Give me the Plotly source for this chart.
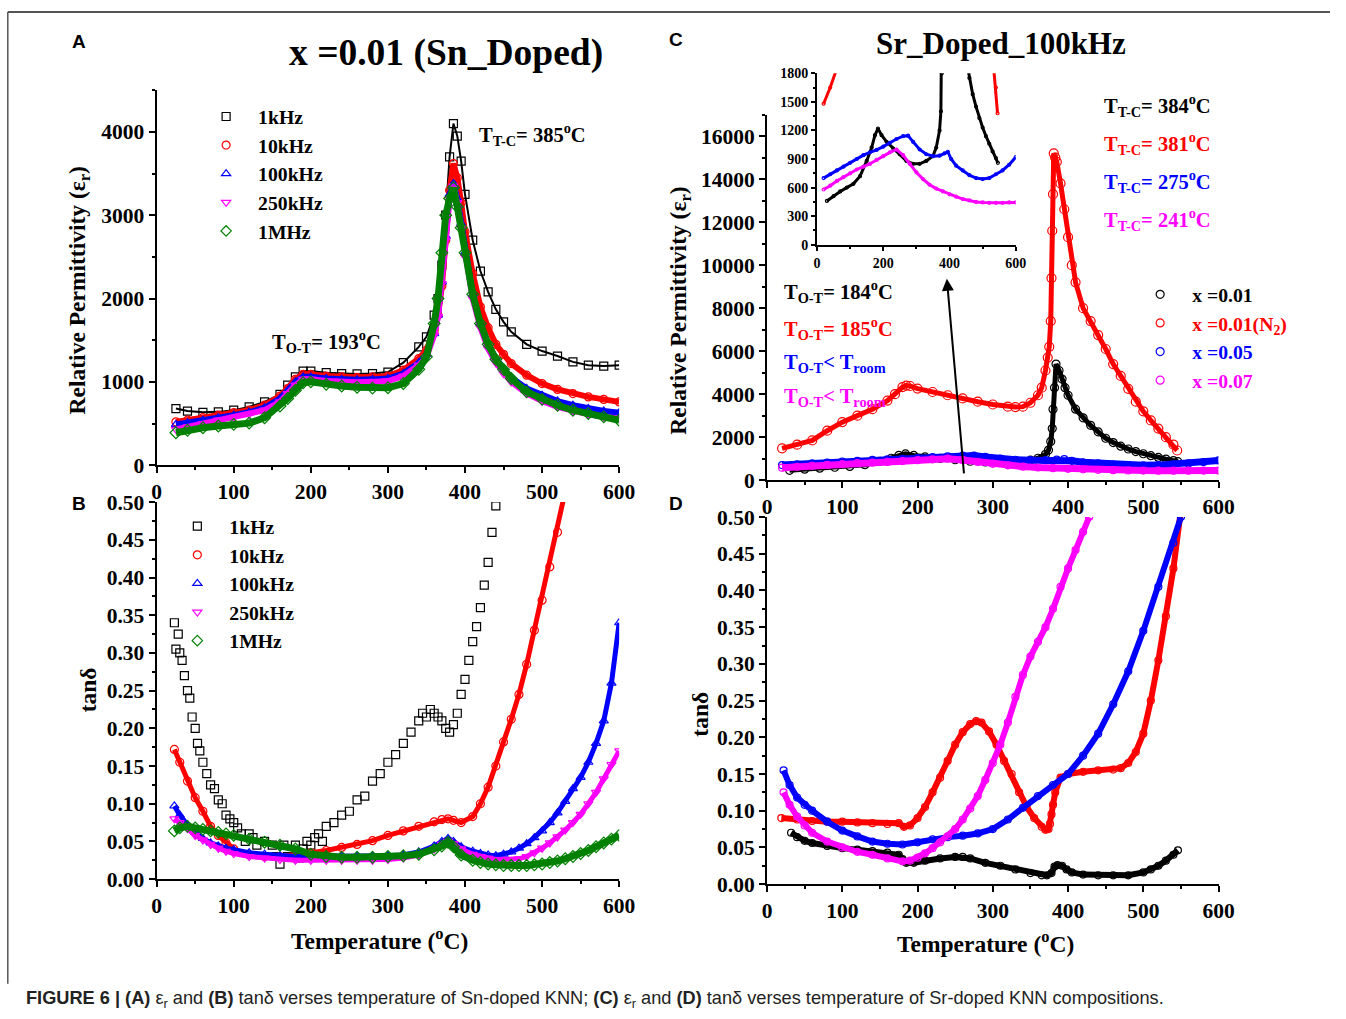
import plotly.graph_objects as go

W, H = 1346, 1019
# the photographed page comes out slightly scaled and shifted; positions below are given in
# picture pixels and converted to the figure's own pixels with this measured mapping
SX, OX = 0.9854, 5.2
SY, OY = 0.979, 9.6

# ---------------- Panel A : permittivity, Sn-doped (x=0.01) ----------------
T_A = [25, 40, 60, 80, 100, 120, 140, 160, 170, 180, 190, 200, 220, 240, 260, 280, 300, 320, 340, 350,
       360, 365, 370, 375, 380, 385, 390, 395, 400, 410, 420, 430, 440, 450, 460, 480, 500, 520, 540, 560, 580, 600]
A_1k = [680, 650, 635, 640, 660, 700, 760, 850, 960, 1060, 1130, 1130, 1110, 1100, 1095, 1100, 1118, 1230, 1420, 1540,
        1800, 2000, 2400, 3000, 3700, 4100, 3950, 3650, 3250, 2700, 2330, 2080, 1870, 1720, 1600, 1450, 1370, 1310, 1240, 1200, 1190, 1200]
A_10k = [520, 540, 570, 600, 630, 660, 720, 830, 920, 1030, 1090, 1090, 1070, 1060, 1055, 1060, 1070, 1140, 1280, 1380,
         1620, 1800, 2150, 2700, 3300, 3620, 3450, 3150, 2800, 2300, 1900, 1650, 1450, 1330, 1220, 1080, 980, 910, 860, 820, 790, 760]
A_100k = [490, 510, 540, 570, 600, 635, 690, 800, 890, 1000, 1060, 1060, 1040, 1030, 1025, 1030, 1040, 1100, 1230, 1330,
          1580, 1800, 2200, 2750, 3250, 3380, 3200, 2900, 2550, 2050, 1700, 1450, 1280, 1150, 1050, 920, 840, 770, 720, 680, 650, 630]
A_250k = [430, 460, 500, 540, 570, 610, 660, 760, 860, 960, 1030, 1030, 1010, 1000, 995, 1000, 1010, 1070, 1200, 1300,
          1560, 1780, 2180, 2700, 3200, 3350, 3150, 2850, 2500, 2000, 1650, 1400, 1230, 1100, 1000, 860, 770, 700, 650, 610, 580, 560]
A_1M = [390, 420, 450, 470, 490, 505, 570, 710, 800, 900, 990, 1000, 970, 950, 935, 925, 930, 980, 1150, 1300,
        1700, 2000, 2550, 3000, 3200, 3330, 3100, 2850, 2550, 2050, 1700, 1450, 1270, 1150, 1040, 880, 790, 720, 660, 620, 580, 540]

# ---------------- Panel B : tan delta, Sn-doped ----------------
T_B1 = [23, 25, 28, 30, 33, 36, 40, 43, 46, 50, 53, 56, 60, 65, 70, 75, 80, 85, 90, 95, 100, 105, 110, 115, 120, 125,
        130, 140, 150, 155, 160, 165, 170, 180, 185, 190, 195, 200, 205, 210, 215, 220, 230, 240, 250, 260, 270, 280,
        290, 300, 310, 320, 330, 340, 345, 350, 355, 360, 365, 370, 375, 380, 385, 390, 395, 400, 405, 410, 415, 420,
        425, 430, 435, 440]
B_1k = [0.340, 0.305, 0.325, 0.300, 0.290, 0.270, 0.250, 0.240, 0.215, 0.200, 0.180, 0.170, 0.155, 0.140, 0.125, 0.120,
        0.105, 0.100, 0.085, 0.080, 0.075, 0.068, 0.060, 0.050, 0.060, 0.055, 0.045, 0.050, 0.045, 0.030, 0.020, 0.045,
        0.030, 0.045, 0.028, 0.040, 0.050, 0.045, 0.055, 0.060, 0.050, 0.070, 0.075, 0.085, 0.090, 0.105, 0.110, 0.130,
        0.140, 0.155, 0.165, 0.180, 0.195, 0.210, 0.220, 0.215, 0.225, 0.220, 0.215, 0.210, 0.200, 0.195, 0.205, 0.220,
        0.245, 0.265, 0.290, 0.315, 0.335, 0.360, 0.390, 0.420, 0.460, 0.495]
T_B = [23, 30, 40, 50, 60, 70, 80, 90, 100, 120, 140, 160, 180, 200, 220, 240, 260, 280, 300, 320, 340, 360, 370, 378,
       385, 395, 410, 420, 430, 440, 450, 460, 470, 480, 490, 500, 510, 520, 530, 540, 550, 560, 570, 580, 590, 600]
B_10k = [0.172, 0.155, 0.130, 0.108, 0.090, 0.070, 0.058, 0.048, 0.040, 0.032, 0.030, 0.030, 0.032, 0.035, 0.038, 0.042,
         0.046, 0.051, 0.058, 0.064, 0.070, 0.076, 0.079, 0.080, 0.078, 0.075, 0.083, 0.100, 0.122, 0.150, 0.182, 0.212,
         0.245, 0.285, 0.330, 0.370, 0.414, 0.460, 0.510, 0.560, None, None, None, None, None, None]
B_100k = [0.097, 0.085, 0.072, 0.062, 0.054, 0.048, 0.044, 0.041, 0.039, 0.035, 0.033, 0.031, 0.030, 0.030, 0.030, 0.030,
          0.030, 0.030, 0.031, 0.032, 0.036, 0.044, 0.050, 0.054, 0.050, 0.043, 0.037, 0.034, 0.032, 0.031, 0.033, 0.036,
          0.041, 0.047, 0.055, 0.064, 0.075, 0.088, 0.103, 0.120, 0.135, 0.155, 0.180, 0.210, 0.260, 0.340]
B_250k = [0.080, 0.075, 0.067, 0.058, 0.052, 0.046, 0.041, 0.037, 0.034, 0.030, 0.028, 0.026, 0.025, 0.025, 0.025, 0.025,
          0.025, 0.025, 0.026, 0.028, 0.032, 0.040, 0.046, 0.050, 0.047, 0.040, 0.033, 0.030, 0.028, 0.026, 0.026, 0.026,
          0.027, 0.030, 0.035, 0.041, 0.048, 0.056, 0.065, 0.075, 0.086, 0.100, 0.115, 0.133, 0.152, 0.170]
B_1M = [0.064, 0.068, 0.070, 0.068, 0.066, 0.064, 0.062, 0.060, 0.058, 0.053, 0.049, 0.045, 0.040, 0.033, 0.030, 0.029,
        0.029, 0.029, 0.030, 0.031, 0.033, 0.039, 0.044, 0.049, 0.043, 0.032, 0.025, 0.022, 0.020, 0.019, 0.018, 0.018,
        0.018, 0.018, 0.019, 0.020, 0.022, 0.024, 0.027, 0.030, 0.034, 0.038, 0.043, 0.048, 0.053, 0.058]

# ---------------- Panel C : permittivity, Sr-doped, 100 kHz ----------------
T_C001 = [30, 50, 70, 90, 110, 130, 150, 165, 175, 184, 195, 210, 230, 250, 270, 290, 310, 330, 350, 360, 370, 374, 377,
          379, 380, 382, 384, 388, 392, 396, 400, 410, 420, 430, 440, 450, 460, 470, 480, 490, 500, 510, 520, 530, 540, 546]
C_001 = [460, 510, 560, 600, 640, 720, 880, 1020, 1150, 1220, 1150, 1080, 1010, 950, 880, 850, 850, 880, 930, 1020, 1200,
         1400, 1800, 2400, 3300, 4300, 5400, 5100, 4700, 4300, 3950, 3300, 2900, 2550, 2250, 1950, 1750, 1580, 1450, 1330,
         1230, 1140, 1060, 980, 910, 860]
T_CN2 = [20, 40, 60, 80, 100, 120, 140, 160, 170, 180, 185, 190, 200, 220, 240, 260, 280, 300, 320, 330, 340, 350, 360,
         365, 370, 373, 375, 377, 378, 379, 380, 381, 383, 385, 390, 395, 400, 405, 410, 420, 430, 440, 450, 460, 470,
         480, 490, 500, 510, 520, 530, 540, 545]
C_N2 = [1480, 1650, 1850, 2300, 2700, 3000, 3300, 3700, 4000, 4330, 4400, 4380, 4260, 4100, 3950, 3800, 3650, 3520, 3420,
        3400, 3420, 3600, 3950, 4300, 5100, 5700, 6200, 7400, 9400, 11600, 13300, 15200, 15000, 14800, 13800, 12600,
        11300, 10000, 9200, 8000, 7400, 6750, 6100, 5400, 4850, 4250, 3650, 3200, 2780, 2400, 2000, 1650, 1380]
T_C005 = [20, 40, 60, 80, 100, 120, 140, 160, 180, 200, 220, 240, 260, 275, 290, 310, 330, 350, 370, 385, 395, 405, 420,
          440, 460, 480, 500, 520, 540, 560, 580, 600]
C_005 = [700, 740, 780, 820, 860, 900, 940, 970, 995, 1030, 1070, 1110, 1140, 1145, 1080, 1000, 950, 930, 935, 960, 975,
         900, 830, 780, 730, 700, 690, 700, 740, 780, 840, 920]
T_C007 = [20, 40, 60, 80, 100, 120, 140, 160, 180, 200, 220, 240, 260, 280, 300, 320, 340, 360, 380, 400, 420, 440, 460,
          480, 500, 520, 540, 560, 580, 600]
C_007 = [580, 620, 670, 710, 750, 790, 820, 850, 890, 930, 970, 1000, 940, 850, 760, 690, 630, 590, 560, 530, 505, 480,
         465, 450, 445, 440, 440, 440, 445, 445]

# ---------------- Panel D : tan delta, Sr-doped ----------------
T_D001 = [32, 40, 50, 60, 80, 100, 120, 140, 160, 175, 180, 185, 195, 210, 230, 250, 260, 270, 290, 310, 330, 350, 365,
          372, 378, 382, 386, 392, 398, 405, 420, 440, 460, 480, 500, 510, 520, 530, 540, 546]
D_001 = [0.070, 0.064, 0.059, 0.056, 0.052, 0.049, 0.047, 0.045, 0.043, 0.040, 0.034, 0.029, 0.029, 0.032, 0.035, 0.037,
         0.037, 0.035, 0.029, 0.025, 0.020, 0.015, 0.012, 0.012, 0.015, 0.024, 0.026, 0.025, 0.020, 0.016, 0.013, 0.012,
         0.012, 0.012, 0.016, 0.020, 0.025, 0.032, 0.040, 0.046]
T_DN2 = [19, 40, 60, 80, 100, 120, 140, 160, 175, 182, 190, 200, 210, 220, 230, 240, 250, 260, 270, 278, 285, 295, 305,
         315, 325, 335, 345, 355, 365, 370, 374, 376, 378, 380, 383, 390, 400, 420, 440, 460, 470, 480, 490, 500, 510,
         520, 530, 540, 550]
D_N2 = [0.090, 0.088, 0.086, 0.085, 0.085, 0.084, 0.083, 0.082, 0.083, 0.078, 0.080, 0.090, 0.105, 0.125, 0.145, 0.168,
        0.190, 0.207, 0.218, 0.222, 0.220, 0.208, 0.190, 0.168, 0.150, 0.125, 0.105, 0.090, 0.078, 0.074, 0.075, 0.082,
        0.095, 0.108, 0.125, 0.145, 0.150, 0.153, 0.155, 0.156, 0.158, 0.165, 0.180, 0.205, 0.250, 0.305, 0.365, 0.430, 0.510]
T_D005 = [22, 30, 40, 50, 60, 80, 100, 120, 140, 160, 180, 200, 220, 240, 260, 280, 300, 320, 340, 360, 380, 400, 420,
          440, 460, 480, 500, 520, 540, 550]
D_005 = [0.155, 0.135, 0.118, 0.108, 0.100, 0.085, 0.073, 0.065, 0.058, 0.055, 0.054, 0.057, 0.061, 0.064, 0.066, 0.069,
         0.075, 0.088, 0.104, 0.120, 0.135, 0.150, 0.175, 0.205, 0.245, 0.290, 0.345, 0.405, 0.465, 0.500]
T_D007 = [22, 30, 40, 50, 60, 80, 100, 120, 140, 160, 180, 190, 200, 210, 220, 230, 240, 250, 260, 270, 280, 290, 300,
          310, 320, 330, 340, 350, 360, 370, 380, 390, 400, 410, 420, 428]
D_007 = [0.125, 0.108, 0.092, 0.080, 0.070, 0.058, 0.050, 0.044, 0.040, 0.035, 0.031, 0.032, 0.036, 0.042, 0.049, 0.057,
         0.065, 0.075, 0.088, 0.103, 0.120, 0.142, 0.165, 0.190, 0.220, 0.255, 0.285, 0.310, 0.330, 0.350, 0.375, 0.405,
         0.430, 0.455, 0.480, 0.500]

FREQ_NAMES = ["1kHz", "10kHz", "100kHz", "250kHz", "1MHz"]
SR_NAMES = ["x =0.01", "x =0.01(N<sub>2</sub>)", "x =0.05", "x =0.07"]

BLACK, RED, BLUE, MAG, GREEN = "#000000", "#FF0000", "#0000FF", "#FF00FF", "#008000"
SERIF = "Liberation Serif"
SANS = "Liberation Sans"


def px(x, y):
    fx = (x - OX) / SX
    fy = (y - OY) / SY
    return fx / W, 1 - fy / H


def dom_x(a, b):
    return [px(a, 0)[0], px(b, 0)[0]]


def dom_y(top, bot):
    return [px(0, bot)[1], px(0, top)[1]]


fig = go.Figure()


def add(xs, ys, color, symbol, xa, ya, lw=4, ms=7, mode="lines+markers"):
    fig.add_trace(go.Scatter(
        x=xs, y=ys, mode=mode, xaxis=xa, yaxis=ya, showlegend=False,
        line=dict(color=color, width=lw),
        marker=dict(symbol=symbol, size=ms, color=color, line=dict(color=color, width=1.2)),
        hoverinfo="skip"))


def add_legend(name, color, symbol, legend, size=8):
    fig.add_trace(go.Scatter(
        x=[None], y=[None], mode="markers", name=name, legend=legend, xaxis="x", yaxis="y",
        marker=dict(symbol=symbol, size=size, color=color, line=dict(color=color, width=1.2))))


# Panel A
symsA = ["square-open", "circle-open", "triangle-up-open", "triangle-down-open", "diamond-open"]
colsA = [BLACK, RED, BLUE, MAG, GREEN]
add(T_A, A_1k, BLACK, "square-open", "x", "y", lw=2, ms=8)
add(T_A, A_10k, RED, "circle-open", "x", "y", lw=6, ms=8)
add(T_A, A_100k, BLUE, "triangle-up-open", "x", "y", lw=6, ms=8)
add(T_A, A_250k, MAG, "triangle-down-open", "x", "y", lw=6, ms=8)
add(T_A, A_1M, GREEN, "diamond-open", "x", "y", lw=7, ms=9)
for n, c, s in zip(FREQ_NAMES, colsA, symsA):
    add_legend(n, c, s, "legend")

# Panel B
add(T_B1, B_1k, BLACK, "square-open", "x2", "y2", mode="markers", ms=8)
add(T_B, B_10k, RED, "circle-open", "x2", "y2", lw=5, ms=8)
add(T_B, B_100k, BLUE, "triangle-up-open", "x2", "y2", lw=5, ms=8)
add(T_B, B_250k, MAG, "triangle-down-open", "x2", "y2", lw=5, ms=8)
add(T_B, B_1M, GREEN, "diamond-open", "x2", "y2", lw=7, ms=9)
for n, c, s in zip(FREQ_NAMES, colsA, symsA):
    add_legend(n, c, s, "legend2")

# Panel C main
add(T_C001, C_001, BLACK, "circle-open", "x3", "y3", lw=5, ms=8)
add(T_CN2, C_N2, RED, "circle-open", "x3", "y3", lw=5, ms=9)
add(T_C005, C_005, BLUE, "circle-open", "x3", "y3", lw=7, ms=7)
add(T_C007, C_007, MAG, "circle-open", "x3", "y3", lw=7, ms=7)
for n, c in zip(SR_NAMES, [BLACK, RED, BLUE, MAG]):
    add_legend("<span style='color:%s'>%s</span>" % (c, n), c, "circle-open", "legend3", size=8)

# Panel C inset
add(T_CN2, C_N2, RED, "circle-open", "x5", "y5", lw=3, ms=3)
add(T_C001, C_001, BLACK, "circle-open", "x5", "y5", lw=3, ms=3)
add(T_C005, C_005, BLUE, "circle-open", "x5", "y5", lw=3, ms=3)
add(T_C007, C_007, MAG, "circle-open", "x5", "y5", lw=3, ms=3)

# Panel D
add(T_D001, D_001, BLACK, "circle-open", "x4", "y4", lw=6, ms=7)
add(T_DN2, D_N2, RED, "circle-open", "x4", "y4", lw=6, ms=7)
add(T_D005, D_005, BLUE, "circle-open", "x4", "y4", lw=6, ms=7)
add(T_D007, D_007, MAG, "circle-open", "x4", "y4", lw=6, ms=7)

tickfont = dict(family=SERIF, size=21.5, color="black", weight="bold")


def ax(domain, rng, dtick, minor, anchor, fmt=None, font=tickfont, ticklen=6):
    d = dict(domain=domain, range=rng, dtick=dtick, tick0=0, anchor=anchor, showline=True, linecolor="black",
             linewidth=2, ticks="outside", ticklen=ticklen, tickwidth=2, tickcolor="black", showgrid=False,
             zeroline=False, mirror=False, tickfont=font, fixedrange=True,
             minor=dict(dtick=minor, tick0=0, ticks="outside", ticklen=ticklen / 2, tickwidth=1.5, tickcolor="black"))
    d["tickformat"] = fmt if fmt else "d"
    return d


insetfont = dict(family=SERIF, size=14, color="black", weight="bold")
legfont = dict(family=SERIF, size=19.7, color="black", weight="bold")


def leg(x, y):
    lx, ly = px(x, y)
    return dict(x=lx, y=ly, xanchor="left", yanchor="top", bgcolor="rgba(0,0,0,0)", font=legfont, itemwidth=54)


fig.update_layout(
    width=W, height=H, margin=dict(l=0, r=0, t=0, b=0),
    paper_bgcolor="white", plot_bgcolor="rgba(0,0,0,0)",
    xaxis=ax(dom_x(157, 620), [0, 600], 100, 50, "y"),
    yaxis=ax(dom_y(89, 465), [0, 4500], 1000, 500, "x"),
    xaxis2=ax(dom_x(157, 620), [0, 600], 100, 50, "y2"),
    yaxis2=ax(dom_y(502, 880), [0, 0.5], 0.05, 0.025, "x2", fmt=".2f"),
    xaxis3=ax(dom_x(768, 1220), [0, 600], 100, 50, "y3"),
    yaxis3=ax(dom_y(113.5, 480), [0, 17000], 2000, 1000, "x3"),
    xaxis4=ax(dom_x(768, 1220), [0, 600], 100, 50, "y4"),
    yaxis4=ax(dom_y(517, 885), [0, 0.5], 0.05, 0.025, "x4", fmt=".2f"),
    xaxis5=ax(dom_x(818, 1017), [0, 600], 200, 100, "y5", font=insetfont, ticklen=4),
    yaxis5=ax(dom_y(72, 244), [0, 1800], 300, 150, "x5", font=insetfont, ticklen=4),
    legend=leg(194.5, 96.0),
    legend2=leg(165.7, 506.8),
    legend3=leg(1129.5, 274.3),
    showlegend=True,
)

ann = []


def text(x, y, s, size=20.5, color="black", family=SERIF, xanchor="center", angle=0, bold=True):
    xx, yy = px(x, y)
    ann.append(dict(x=xx, y=yy, xref="paper", yref="paper", text=s, showarrow=False, xanchor=xanchor,
                    yanchor="middle", textangle=angle,
                    font=dict(family=family, size=size, color=color, weight="bold" if bold else "normal")))


text(447, 52, "x =0.01 (Sn_Doped)", size=37.5)
text(1002, 42, "Sr_Doped_100kHz", size=31)
for L, x, y in [("A", 79, 40), ("B", 79, 503), ("C", 677, 38), ("D", 677, 503)]:
    text(x, y, L, size=19, family=SANS)

text(478, 133, "T<sub>T-C</sub>= 385<sup>o</sup>C", xanchor="left")
text(270, 341, "T<sub>O-T</sub>= 193<sup>o</sup>C", xanchor="left")

for (s, c, y) in [("384", BLACK, 104), ("381", RED, 142), ("275", BLUE, 181), ("241", MAG, 219)]:
    text(1103, y, "T<sub>T-C</sub>= %s<sup>o</sup>C" % s, color=c, xanchor="left")
text(783, 291, "T<sub>O-T</sub>= 184<sup>o</sup>C", xanchor="left")
text(783, 328, "T<sub>O-T</sub>= 185<sup>o</sup>C", color=RED, xanchor="left")
text(783, 363, "T<sub>O-T</sub>< T<sub>room</sub>", color=BLUE, xanchor="left")
text(783, 397, "T<sub>O-T</sub>< T<sub>room</sub>", color=MAG, xanchor="left")

TITLE = 23.5
text(79, 290, "Relative Permittivity (ε<sub>r</sub>)", size=TITLE, angle=-90)
text(88, 690, "tanδ", size=TITLE, angle=-90)
text(380, 940, "Temperature (<sup>o</sup>C)", size=TITLE)
text(681, 310, "Relative Permittivity (ε<sub>r</sub>)", size=TITLE, angle=-90)
text(700, 715, "tanδ", size=TITLE, angle=-90)
text(987, 943, "Temperature (<sup>o</sup>C)", size=TITLE)

text(24, 1001, "<b>FIGURE 6 | (A)</b> ε<sub>r</sub> and <b>(B)</b> tanδ verses temperature of Sn-doped KNN; "
     "<b>(C)</b> ε<sub>r</sub> and <b>(D)</b> tanδ verses temperature of Sr-doped KNN compositions.",
     size=18.2, family=SANS, color="#222222", xanchor="left", bold=False)

hx, hy = px(948, 278)
ann.append(dict(x=hx, y=hy, xref="paper", yref="paper", ax=17 / SX, ay=192 / SY, axref="pixel", ayref="pixel",
                showarrow=True, arrowhead=2, arrowsize=1.2, arrowwidth=2, arrowcolor="black", text=""))

fig.update_layout(annotations=ann)

x0, ytop = px(8, 10.5)
_, ybot = px(0, 985)
fig.update_layout(shapes=[
    dict(type="line", xref="paper", yref="paper", x0=x0, x1=1, y0=ytop, y1=ytop,
         line=dict(color="#555555", width=2)),
    dict(type="line", xref="paper", yref="paper", x0=x0, x1=x0, y0=ytop, y1=ybot,
         line=dict(color="#555555", width=1.5)),
])

fig.write_html("out.html")
